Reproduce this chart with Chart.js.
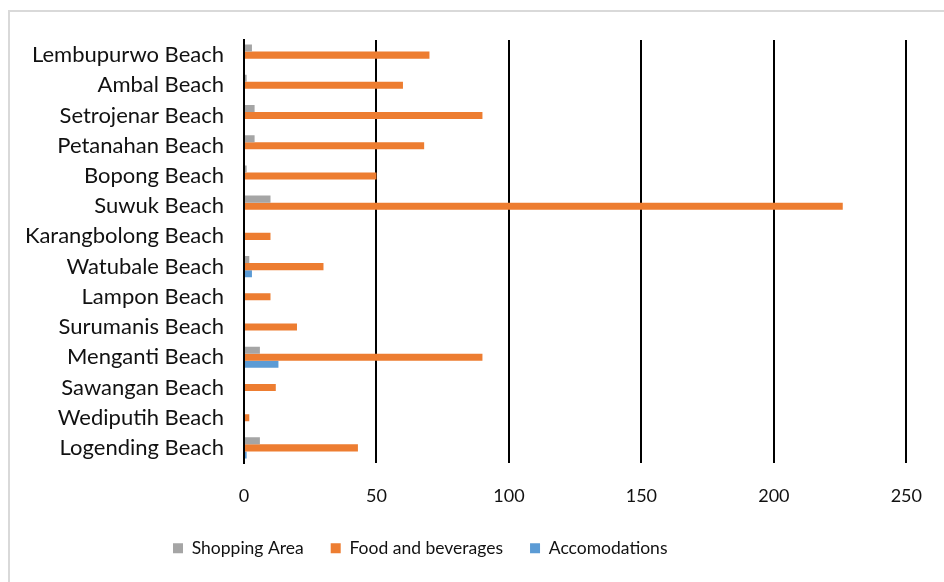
<!DOCTYPE html>
<html>
<head>
<meta charset="utf-8">
<script src="https://cdn.jsdelivr.net/npm/chart.js@4.4.1/dist/chart.umd.min.js"></script>
<style>
  body { margin: 0; background: #fff; }
  #wrap { position: relative; width: 944px; height: 582px; overflow: hidden; }
  #frame { position: absolute; left: 8px; top: 10px; width: 1000px; height: 700px;
           border-left: 2px solid #d9d9d9; border-top: 2px solid #d9d9d9; }
  canvas { position: absolute; left: 0; top: 0; }
</style>
</head>
<body>
<div id="wrap">
  <div id="frame"></div>
  <canvas id="beachChart" width="944" height="582"></canvas>
</div>
<script>
let beaches = ["Lembupurwo Beach", "Ambal Beach", "Setrojenar Beach", "Petanahan Beach",
    "Bopong Beach", "Suwuk Beach", "Karangbolong Beach", "Watubale Beach", "Lampon Beach",
    "Surumanis Beach", "Menganti Beach", "Sawangan Beach", "Wediputih Beach", "Logending Beach"];

let shoppingData = [3, 1, 4, 4, 1, 10, 0, 2, 0, 0, 6, 0, 0, 6];
let foodData = [70, 60, 90, 68, 50, 226, 10, 30, 10, 20, 90, 12, 2, 43];
let accomodationData = [0, 0, 0, 0, 0, 0, 0, 3, 0, 0, 13, 0, 0, 1];

let xTicks = [0, 50, 100, 150, 200, 250];

// the legend sits left of centre in the original, so nudge its start
const legendShift = {
    id: "legendShift",
    afterLayout(chart) {
        chart.legend.left = 146;
    }
};

const beachChart = new Chart(
    document.getElementById("beachChart"),
    {
        type: "bar",
        data: {
            labels: beaches,
            datasets: [{
                label: "Shopping Area",
                data: shoppingData,
                backgroundColor: "#A5A5A5"
            }, {
                label: "Food and beverages",
                data: foodData,
                backgroundColor: "#ED7D31"
            }, {
                label: "Accomodations",
                data: accomodationData,
                backgroundColor: "#5B9BD5"
            }]
        },
        options: {
            indexAxis: "y",
            responsive: false,
            animation: false,
            categoryPercentage: 0.7,
            barPercentage: 1.0,
            layout: { padding: { top: 40, right: 24, bottom: 15, left: 0 } },
            plugins: {
                legend: {
                    position: "bottom",
                    align: "start",
                    labels: {
                        boxWidth: 10,
                        boxHeight: 10,
                        padding: 27,
                        color: "#111",
                        font: { family: "Lato", size: 17.5 }
                    }
                },
                tooltip: { enabled: false }
            },
            scales: {
                x: {
                    min: 0,
                    max: 250,
                    afterBuildTicks: scale => {
                        scale.ticks = xTicks.map(v => ({ value: v }));
                    },
                    afterFit: scale => { scale.height = 49.5; },
                    grid: { color: "#000", lineWidth: 2, drawTicks: false },
                    border: { display: false },
                    ticks: { color: "#111", font: { family: "Lato", size: 18 }, padding: 22 }
                },
                y: {
                    afterFit: scale => { scale.width = 244; },
                    grid: { display: false },
                    border: { display: true, color: "#000", width: 2 },
                    ticks: { color: "#111", font: { family: "Lato", size: 22 }, padding: 12 }
                }
            }
        },
        plugins: [legendShift]
    }
);
</script>
</body>
</html>
